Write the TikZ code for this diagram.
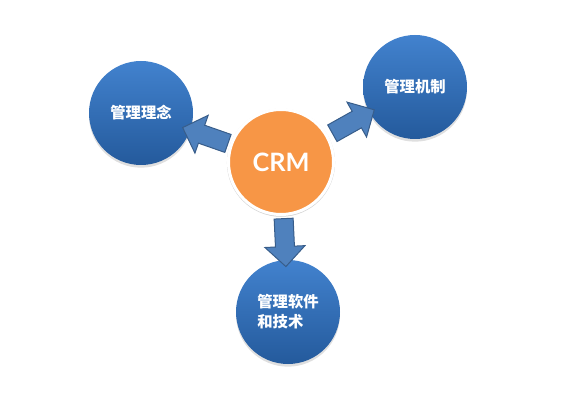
\documentclass[tikz,border=0pt]{standalone}
\usepackage{fontspec}
\newfontfamily\cjkfont{Noto Sans CJK SC}
\newfontfamily\crmfont{Lato}
\usetikzlibrary{shapes.arrows}
\usetikzlibrary{shadows}
\definecolor{mblue}{RGB}{79, 129, 189}
\definecolor{mblueline}{RGB}{56, 93, 138}
\definecolor{morange}{RGB}{247, 150, 70}
\definecolor{mtop}{RGB}{66, 130, 206}
\definecolor{mbottom}{RGB}{36, 90, 156}
\tikzset{topic/.style = {circle, minimum size=78pt, inner sep=0pt,
                         top color=mtop, bottom color=mbottom, text=white,
                         font=\cjkfont\bfseries\fontsize{11.5}{15}\selectfont,
                         drop shadow={opacity=0.25, shadow xshift=0pt, shadow yshift=-2pt}}}
\tikzset{core/.style = {circle, minimum size=78.75pt, inner sep=0pt,
                        fill=morange, draw=white, line width=2.25pt, text=white,
                        font=\crmfont\bfseries\fontsize{19}{24}\selectfont,
                        drop shadow={opacity=0.35, shadow scale=1.03, shadow xshift=0pt, shadow yshift=-0.5pt}}}
\tikzset{flow/.style = {single arrow, minimum height=36pt, inner sep=0pt, inner ysep=6.75pt,
                        single arrow head extend=7.9pt, fill=mblue, draw=mblueline,
                        line width=0.75pt}}

\begin{document}
\begin{tikzpicture}[x=0.75pt, y=0.75pt]
    \useasboundingbox (0, 0) rectangle (574, 407);

    \node [core] (crm) at (281, 245) {CRM};

    \node [topic] (idea) at (141, 294) {管理理念};
    \node [topic] (rule) at (415, 320) {管理机制};
    \node [topic, align=left] (soft) at (288, 95) {管理软件\\和技术};

    \path (crm) -- (idea) node [flow, pos=0.51, sloped, allow upside down] {};
    \path (crm) -- (rule) node [flow, pos=0.51, sloped, allow upside down] {};
    \path (crm) -- (soft) node [flow, pos=0.5, sloped, allow upside down] {};
  \end{tikzpicture}
\end{document}
